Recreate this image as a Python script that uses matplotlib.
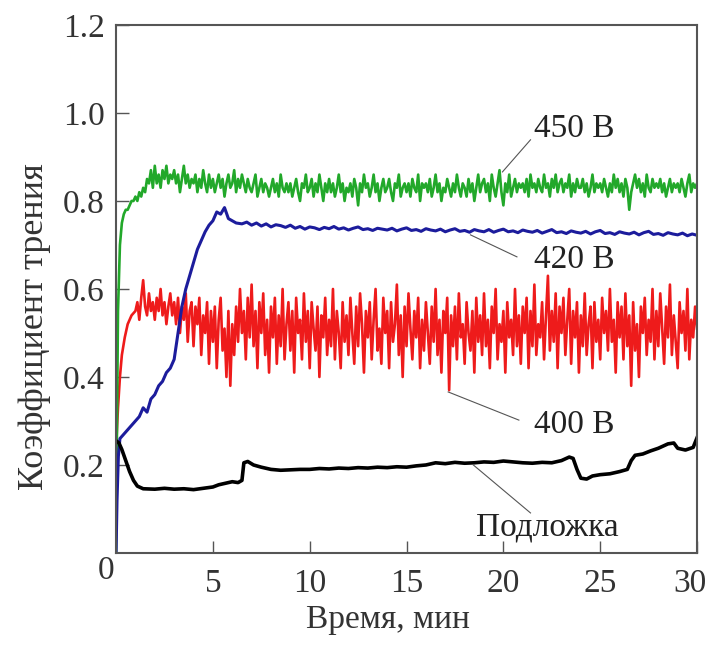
import matplotlib
matplotlib.use("Agg")
import matplotlib.pyplot as plt
import matplotlib.transforms as mtrans
import numpy as np

plt.rcParams['font.family'] = ['Liberation Serif', 'DejaVu Serif']

# --- 400 V (red), start + values every 0.1 min from 1 to 30 (hundredths)
red_t0 = [0.0, 0.1, 0.2, 0.3, 0.45, 0.6, 0.8]
red_v0 = [0.24, 0.33, 0.40, 0.45, 0.49, 0.52, 0.54]
red_v = [
    55, 57, 53, 58, 62, 56, 54, 59, 55, 57,
    53, 58, 55, 60, 54, 57, 52, 56, 59, 54,
    57, 52, 58, 50, 56, 53, 59, 48, 55, 57,
    47, 56, 52, 58, 45, 54, 50, 57, 43, 55,
    48, 56, 42, 53, 58, 46, 51, 40, 55, 38,
    52, 45, 56, 48, 60, 50, 55, 44, 58, 49,
    61, 47, 55, 42, 57, 50, 59, 45, 53, 41,
    56, 49, 58, 43, 54, 47, 60, 44, 52, 57,
    46, 55, 41, 58, 50, 53, 44, 59, 48, 55,
    42, 57, 51, 46, 56, 40, 54, 49, 58, 45,
    53, 47, 60, 44, 55, 50, 42, 57, 48, 54,
    45, 58, 50, 43, 56, 47, 59, 52, 41, 55,
    49, 57, 44, 53, 60, 46, 51, 43, 58, 50,
    55, 42, 57, 48, 52, 61, 45, 54, 40, 56,
    47, 59, 51, 44, 55, 49, 58, 42, 53, 46,
    57, 50, 43, 56, 48, 60, 45, 53, 41, 55,
    50, 58, 37, 54, 47, 56, 44, 59, 49, 52,
    43, 57, 50, 46, 55, 41, 58, 48, 54, 45,
    59, 47, 53, 42, 56, 50, 60, 44, 52, 48,
    55, 41, 57, 49, 53, 45, 60, 47, 54, 43,
    56, 50, 58, 42, 55, 47, 61, 45, 52, 49,
    57, 44, 54, 63, 46, 55, 48, 59, 42, 56,
    50, 58, 45, 53, 60, 43, 55, 49, 57, 41,
    54, 47, 59, 45, 52, 56, 42, 57, 48, 53,
    44, 58, 50, 55, 46, 60, 48, 53, 41, 57,
    49, 56, 44, 59, 47, 54, 38, 57, 46, 52,
    40, 56, 50, 58, 45, 53, 48, 60, 44, 55,
    47, 59, 51, 43, 56, 49, 61, 45, 54, 48,
    42, 57, 50, 55, 46, 60, 44, 53, 49, 56,
    51,
]

# --- 450 V (green)
green_t0 = [0.0, 0.05, 0.1, 0.2, 0.3, 0.4, 0.5, 0.6, 0.7, 0.8, 0.9]
green_v0 = [0.0, 0.30, 0.55, 0.70, 0.75, 0.77, 0.78, 0.78, 0.79, 0.80, 0.80]
green_v = [
    81, 80, 82, 81, 83, 82, 85, 84, 87, 83,
    88, 84, 86, 83, 87, 85, 88, 84, 86, 85,
    87, 84, 86, 82, 85, 88, 84, 86, 83, 85,
    84, 86, 82, 85, 83, 87, 84, 82, 86, 83,
    85, 82, 84, 86, 83, 85, 81, 84, 86, 83,
    84, 87, 82, 85, 83, 86, 84, 82, 85, 83,
    82, 84, 86, 81, 83, 85, 82, 84, 83, 81,
    83, 85, 82, 84, 81, 86, 83, 82, 84, 82,
    84, 81, 83, 85, 82, 80, 84, 83, 86, 82,
    83, 85, 81, 84, 82, 86, 83, 80, 84, 82,
    85, 82, 84, 81, 83, 86, 82, 84, 80, 83,
    82, 84, 81, 85, 83, 79, 84, 82, 86, 83,
    84, 81, 83, 86, 82, 84, 80, 83, 85, 82,
    83, 85, 82, 80, 84, 83, 86, 81, 83, 84,
    82, 84, 81, 85, 83, 82, 86, 80, 84, 83,
    84, 82, 85, 81, 83, 86, 82, 84, 80, 83,
    82, 85, 83, 81, 84, 82, 86, 83, 81, 84,
    83, 81, 85, 82, 84, 80, 83, 86, 82, 84,
    85, 82, 84, 80, 86, 83, 81, 84, 87, 82,
    79, 84, 82, 86, 81, 83, 85, 82, 84, 83,
    84, 82, 85, 81, 86, 83, 84, 82, 85, 83,
    82, 86, 83, 84, 81, 85, 83, 86, 82, 84,
    85, 82, 84, 83, 86, 81, 84, 82, 85, 83,
    83, 85, 82, 84, 81, 83, 86, 82, 84, 83,
    84, 82, 85, 83, 81, 84, 82, 86, 83, 85,
    82, 84, 81, 85, 83, 78, 82, 84, 86, 83,
    85, 82, 84, 81, 86, 83, 82, 85, 83, 84,
    83, 85, 82, 84, 81, 83, 85, 82, 84, 83,
    84, 82, 85, 83, 81, 84, 86, 82, 84, 83,
    84,
]

# --- 420 V (blue): run-in part, then every 0.25 min from 6.5 to 30 (thousandths)
blue_t0 = [0, 0.05, 0.12, 0.2, 0.4, 0.6, 0.8, 1.0, 1.2, 1.4, 1.6, 1.8, 2.0, 2.2,
           2.4, 2.6, 2.8, 3.0, 3.2, 3.4, 3.6, 3.8, 4.0, 4.2, 4.4, 4.6, 4.8, 5.0,
           5.2, 5.4, 5.6, 5.8, 6.0, 6.2]
blue_v0 = [0, 0.12, 0.22, 0.26, 0.27, 0.28, 0.29, 0.30, 0.31, 0.33, 0.32, 0.35,
           0.36, 0.38, 0.39, 0.41, 0.42, 0.44, 0.50, 0.56, 0.60, 0.63, 0.66, 0.69,
           0.71, 0.73, 0.745, 0.755, 0.775, 0.77, 0.785, 0.76, 0.755, 0.75]
blue_v = [
    748, 752, 745, 750, 743, 748, 741, 746, 744, 740,
    745, 738, 742, 736, 741, 739, 735, 740, 737, 742,
    736, 739, 734, 738, 741, 735, 737, 733, 738, 736,
    734, 738, 732, 736, 739, 733, 735, 731, 737, 734,
    732, 736, 730, 734, 737, 731, 733, 729, 735, 732,
    730, 735, 729, 733, 736, 730, 732, 728, 734, 731,
    729, 733, 727, 731, 735, 728, 730, 726, 732, 729,
    727, 731, 725, 730, 733, 726, 728, 724, 730, 727,
    725, 729, 723, 728, 731, 724, 726, 722, 728, 725,
    723, 727, 721, 725, 722,
]

# --- substrate (black)
sub_t = [0, 0.15, 0.3, 0.5, 0.7, 0.9, 1.1, 1.4, 2, 2.5, 3, 3.5, 4, 4.5, 5, 5.3,
         5.6, 6, 6.3, 6.5, 6.6, 6.8, 7.1, 7.5, 8, 8.5, 9, 9.5, 10, 10.5, 11, 11.5,
         12, 12.5, 13, 13.5, 14, 14.5, 15, 15.5, 16, 16.5, 17, 17.5, 18, 18.5, 19,
         19.5, 20, 20.5, 21, 21.5, 22, 22.5, 23, 23.4, 23.6, 23.8, 24, 24.3, 24.6,
         25, 25.5, 26, 26.4, 26.6, 26.8, 27.2, 27.6, 28, 28.5, 28.8, 29, 29.4,
         29.8, 30]
sub_v = [0.255, 0.25, 0.235, 0.21, 0.185, 0.165, 0.152, 0.146, 0.145, 0.147,
         0.145, 0.146, 0.144, 0.147, 0.15, 0.155, 0.158, 0.162, 0.16, 0.165,
         0.205, 0.208, 0.2, 0.195, 0.19, 0.188, 0.189, 0.19, 0.19, 0.192, 0.191,
         0.193, 0.192, 0.194, 0.193, 0.195, 0.194, 0.196, 0.195, 0.198, 0.2,
         0.205, 0.203, 0.206, 0.204, 0.205, 0.207, 0.206, 0.209, 0.207, 0.205,
         0.204, 0.206, 0.205, 0.21, 0.218, 0.215, 0.19, 0.17, 0.168, 0.175,
         0.178, 0.18, 0.185, 0.19, 0.21, 0.222, 0.225, 0.232, 0.238, 0.248,
         0.25, 0.238, 0.234, 0.24, 0.262]

labels = ['450 В', '420 В', '400 В', 'Подложка']

# assemble series
t_dense = np.round(1.0 + 0.1 * np.arange(len(red_v)), 2)
red_t = np.concatenate([red_t0, t_dense])
red_y = np.concatenate([red_v0, np.array(red_v) / 100])
green_t = np.concatenate([green_t0, t_dense])
green_y = np.concatenate([green_v0, np.array(green_v) / 100])
blue_t = np.concatenate([blue_t0, 6.5 + 0.25 * np.arange(len(blue_v))])
blue_y = np.concatenate([blue_v0, np.array(blue_v) / 1000])

fig = plt.figure(figsize=(7.12, 6.47), dpi=100)
ax = fig.add_axes([0.163, 0.1453, 0.816, 0.8161])

ax.plot(red_t, red_y, color='#ee1b1b', lw=1.9)
ax.plot(green_t, green_y, color='#22a82a', lw=1.9)
ax.plot(blue_t, blue_y, color='#1c1c9c', lw=2.2)
ax.plot(sub_t, sub_v, color='black', lw=2.6)

ax.set_xlim(0, 30)
ax.set_ylim(0, 1.2)
ax.set_xticks([5, 10, 15, 20, 25, 30])
ax.set_yticks([0.2, 0.4, 0.6, 0.8, 1.0, 1.2])
ax.set_yticklabels(['0.2', '0.4', '0.6', '0.8', '1.0', '1.2'])
ax.tick_params(direction='in', length=9, width=1, colors='#555555',
               labelcolor='#333333', labelsize=24)
ax.tick_params(axis='y', pad=8)
ax.tick_params(axis='x', pad=11)
for s in ax.spines.values():
    s.set_color('#555555')
    s.set_linewidth(1.5)

# pull the last x label ("30") a little inside the figure
last = ax.get_xticklabels()[-1]
last.set_transform(last.get_transform() +
                   mtrans.ScaledTranslation(-5 / 72, 0, fig.dpi_scale_trans))

ax.annotate('0', xy=(0, 0), xytext=(-7, -13), textcoords='offset points',
            ha='center', va='center', fontsize=24, color='#333333')

ax.set_xlabel('Время, мин', fontsize=24, color='#333333')
ax.set_ylabel('Коэффициент трения', fontsize=26, color='#333333')
ax.xaxis.set_label_coords(0.468, -0.127)
ax.yaxis.set_label_coords(-0.141, 0.428)
ax.xaxis.label.set_va('center')
ax.yaxis.label.set_va('center')

# curve labels with leader lines
txt_pos = [(21.6, 0.965), (21.6, 0.666), (21.6, 0.291), (18.6, 0.059)]
line_from = [(21.4, 0.939), (20.7, 0.673), (20.8, 0.302), (21.4, 0.091)]
line_to = [(19.95, 0.866), (18.3, 0.723), (17.15, 0.366), (18.45, 0.2)]
for lab, p, a, b in zip(labels, txt_pos, line_from, line_to):
    ax.text(p[0], p[1], lab, ha='left', va='center', fontsize=24, color='#222222')
    ax.plot([a[0], b[0]], [a[1], b[1]], color='#555555', lw=0.8)

fig.savefig('out.png', dpi=100)
